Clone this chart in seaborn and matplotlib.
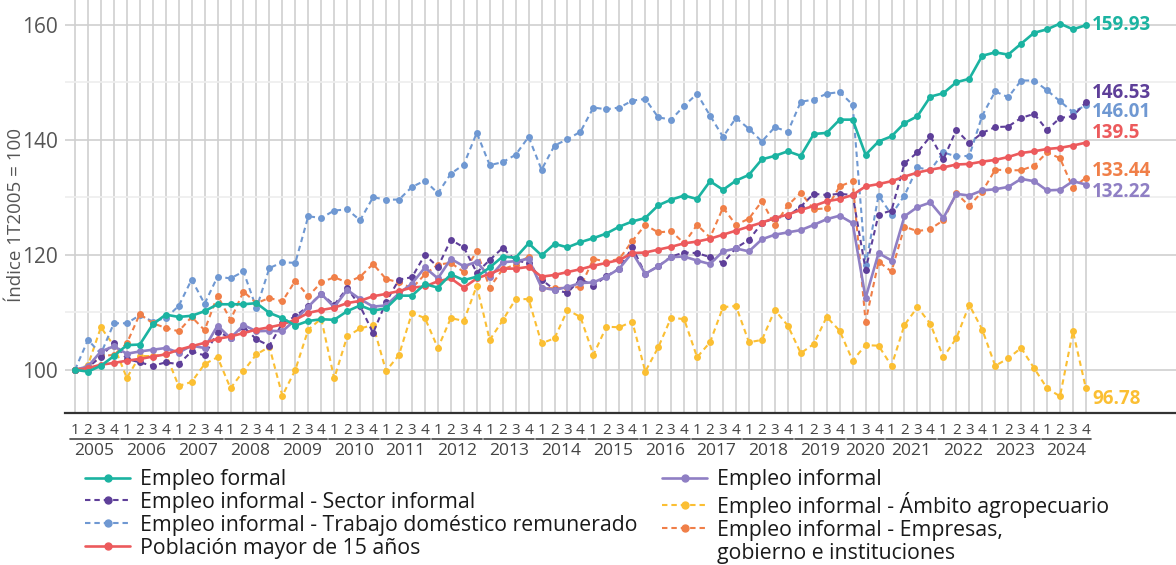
import pandas as pd
import seaborn as sns
import matplotlib.pyplot as plt
from matplotlib.lines import Line2D
from matplotlib.transforms import blended_transform_factory

# periods: 2005Q1 .. 2024Q4 (2020Q2 missing)
years = list(range(2005, 2025))
quarters_2020 = [1, 3, 4]

empleo_formal = [100, 99.7, 100.7, 102.4, 104.3, 104.4, 107.9, 109.6, 109.2, 109.4,
                 110.2, 111.4, 111.4, 111.4, 111.6, 109.9, 109.0, 107.7, 108.5, 108.8,
                 108.7, 110.2, 111.2, 110.3, 110.7, 112.9, 112.9, 114.9, 114.3, 116.6,
                 115.6, 116.2, 117.8, 119.7, 119.5, 122.0, 119.9, 121.9, 121.3, 122.2,
                 122.9, 123.7, 124.9, 125.8, 126.4, 128.6, 129.6, 130.3, 129.7, 132.8,
                 131.3, 132.9, 133.9, 136.6, 137.2, 138.0, 137.2, 141.0, 141.2, 143.5,
                 143.5, 137.4, 139.7, 140.6, 142.9, 144.1, 147.5, 148.1, 150.0, 150.6,
                 154.6, 155.2, 154.8, 156.7, 158.6, 159.2, 160.2, 159.2, 159.93]

sector_informal = [100, 100.4, 102.3, 104.7, 101.9, 101.3, 100.7, 101.3, 101.0, 103.2,
                   102.5, 106.6, 105.6, 107.5, 105.3, 104.2, 108.1, 109.3, 111.1, 113.2,
                   111.3, 114.2, 111.1, 106.4, 111.8, 115.7, 116.1, 120.0, 117.9, 122.6,
                   121.3, 116.9, 119.1, 121.2, 119.0, 118.6, 115.7, 113.9, 113.4, 115.8,
                   114.6, 116.3, 117.6, 121.3, 116.7, 118.0, 119.7, 120.4, 120.3, 119.6,
                   118.6, 121.2, 122.6, 125.5, 126.4, 126.7, 128.4, 130.6, 130.4, 130.6,
                   130.4, 117.4, 127.0, 127.7, 135.9, 137.8, 140.6, 136.6, 141.7, 139.4,
                   141.2, 142.2, 142.3, 143.8, 144.5, 141.7, 143.8, 144.1, 146.53]

trabajo_domestico = [100, 105.2, 102.8, 108.1, 108.1, 109.5, 108.4, 109.0, 111.1, 115.7,
                     111.5, 116.2, 115.9, 117.1, 110.7, 117.7, 118.7, 118.6, 126.7, 126.4,
                     127.7, 127.9, 126.0, 130.0, 129.6, 129.6, 131.8, 132.9, 130.7, 134.1,
                     135.7, 141.2, 135.6, 136.1, 137.4, 140.5, 134.8, 139.0, 140.1, 141.4,
                     145.6, 145.3, 145.6, 146.8, 147.1, 143.9, 143.5, 145.9, 148.0, 144.2,
                     140.5, 143.8, 141.9, 139.7, 142.2, 141.4, 146.6, 147.0, 148.0, 148.3,
                     146.1, 118.2, 130.3, 127.0, 130.3, 135.2, 134.7, 137.8, 137.1, 137.2,
                     144.2, 148.4, 147.4, 150.3, 150.3, 148.6, 146.7, 144.8, 146.01]

poblacion_15 = [100, 100.3, 100.9, 101.2, 101.6, 101.9, 102.3, 102.7, 103.5, 104.1,
                104.7, 105.4, 105.8, 106.4, 107.0, 107.4, 107.9, 108.7, 109.9, 110.4,
                110.8, 111.6, 112.0, 112.8, 113.2, 113.7, 114.3, 114.5, 115.4, 115.9,
                114.3, 115.9, 116.7, 117.6, 117.6, 117.9, 116.2, 116.5, 117.0, 117.5,
                118.1, 118.6, 119.1, 120.3, 120.4, 120.9, 121.4, 122.0, 122.3, 122.8,
                123.5, 124.2, 124.9, 125.6, 126.4, 127.0, 127.8, 128.5, 129.3, 129.7,
                130.4, 131.9, 132.3, 132.8, 133.6, 134.3, 134.8, 135.2, 135.7, 135.8,
                136.2, 136.5, 137.0, 137.7, 138.0, 138.4, 138.6, 139.0, 139.5]

empleo_informal = [100, 100.6, 103.2, 104.1, 102.8, 103.2, 103.5, 103.8, 103.0, 104.2,
                   103.8, 107.7, 105.5, 107.8, 106.7, 106.8, 106.7, 108.7, 111.0, 113.2,
                   110.9, 113.9, 112.3, 111.0, 111.2, 113.3, 115.0, 117.8, 115.9, 119.3,
                   118.0, 118.8, 116.1, 118.7, 118.9, 119.3, 114.3, 113.9, 114.4, 115.1,
                   115.2, 116.2, 117.6, 120.4, 116.7, 118.0, 119.6, 119.7, 119.0, 118.4,
                   120.6, 121.1, 120.6, 122.7, 123.5, 123.9, 124.3, 125.2, 126.2, 126.8,
                   125.5, 112.5, 120.3, 119.0, 126.7, 128.3, 129.1, 126.4, 130.6, 130.3,
                   131.2, 131.4, 131.8, 133.2, 132.8, 131.2, 131.3, 132.8, 132.22]

ambito_agro = [100, 100.8, 107.4, 104.2, 98.6, 102.4, 102.4, 102.8, 97.2, 97.9,
               101.0, 102.2, 96.8, 99.8, 102.7, 104.0, 95.5, 100.0, 107.0, 108.9,
               98.5, 105.8, 107.2, 107.8, 99.8, 102.6, 109.9, 109.0, 103.8, 109.0,
               108.5, 114.6, 105.2, 108.6, 112.3, 112.3, 104.6, 105.5, 110.4, 109.2,
               102.6, 107.5, 107.4, 108.4, 99.7, 103.9, 109.1, 108.8, 102.2, 104.8,
               110.9, 111.1, 104.8, 105.2, 110.4, 107.7, 102.9, 104.5, 109.2, 106.8,
               101.6, 104.3, 104.2, 100.7, 107.8, 110.9, 108.0, 102.2, 105.5, 111.3,
               107.0, 100.7, 102.0, 103.8, 100.3, 96.8, 95.4, 106.7, 96.78]

empresas_gobierno = [100, 100.5, 102.4, 102.6, 104.6, 109.7, 108.1, 107.3, 106.7, 109.2,
                     106.9, 112.9, 108.7, 113.6, 111.6, 112.5, 111.9, 115.5, 112.8, 115.2,
                     116.1, 115.2, 116.2, 118.4, 115.8, 115.2, 114.2, 116.6, 118.3, 118.6,
                     117.0, 120.6, 114.3, 117.5, 118.3, 119.7, 114.2, 114.2, 114.3, 114.4,
                     119.3, 118.8, 119.3, 122.4, 125.2, 123.9, 124.1, 122.0, 125.2, 123.0,
                     128.2, 125.2, 126.3, 129.3, 125.2, 128.6, 130.8, 127.9, 128.1, 131.9,
                     132.8, 108.4, 118.8, 117.1, 124.9, 124.1, 124.5, 126.0, 130.7, 128.5,
                     131.0, 134.8, 134.7, 134.7, 135.5, 137.8, 136.8, 131.6, 133.44]

periods = []
for y in years:
    for q in (quarters_2020 if y == 2020 else [1, 2, 3, 4]):
        periods.append((y, q))

df = pd.DataFrame(periods, columns=["anio", "trim"])
df["t"] = range(len(df))

# name, values, color, dashed, end label y (layout)
series = [
    ("Empleo formal", empleo_formal, "#1bb3a1", False, 160.0),
    ("Empleo informal - Sector informal", sector_informal, "#5e3f99", True, 148.2),
    ("Empleo informal - Trabajo doméstico remunerado", trabajo_domestico, "#6f98d2", True, 144.75),
    ("Población mayor de 15 años", poblacion_15, "#ec5a5c", False, 141.2),
    ("Empleo informal", empleo_informal, "#8f7fc4", False, 131.0),
    ("Empleo informal - Ámbito agropecuario", ambito_agro, "#fbbf33", True, 94.9),
    ("Empleo informal - Empresas,", empresas_gobierno, "#f07f48", True, 134.5),
]

sns.set_theme(style="white")
plt.rcParams["font.family"] = ["Open Sans", "DejaVu Sans"]

fig = plt.figure(figsize=(11.76, 5.65), dpi=100)
ax = fig.add_axes([65 / 1176, 152 / 565, 1 - 65 / 1176, 413 / 565])

dash = (0, (2.6, 1.9))
draw_order = [5, 2, 6, 1, 4, 3, 0]
for k in draw_order:
    name, vals, color, dashed, _ = series[k]
    sns.lineplot(x=df["t"], y=vals, ax=ax, color=color, marker="o",
                 markersize=5, markeredgewidth=0, linewidth=1.5 if dashed else 1.9,
                 linestyle=dash if dashed else "-", zorder=3)

for name, vals, color, dashed, ly in series:
    ax.annotate(f"{vals[-1]:g}", xy=(df["t"].iloc[-1], ly), xytext=(4.5, 0),
                textcoords="offset points", ha="left", va="center",
                fontsize=13.5, fontweight="bold", color=color)

ax.set_xlim(-0.77, 84.95)
ax.set_ylim(92.5, 164.3)
ax.set_yticks([100, 120, 140, 160])
ax.set_yticks([110, 130, 150], minor=True)
ax.grid(axis="y", which="major", color="#cfcfcf", linewidth=1.2)
ax.grid(axis="y", which="minor", color="#eeeeee", linewidth=1.2)
ax.set_xticks(df["t"])
ax.set_xticklabels(df["trim"].astype(str))
ax.grid(axis="x", which="major", color="#cfcfcf", linewidth=1.2)
ax.set_axisbelow(True)
ax.tick_params(axis="x", length=0, pad=7, labelsize=11, labelcolor="#444444")
ax.tick_params(axis="y", which="both", length=0, pad=5, labelsize=15, labelcolor="#555555")
ax.set_xlabel("")
ax.set_ylabel("")
for s in ["top", "right", "left"]:
    ax.spines[s].set_visible(False)
ax.spines["bottom"].set_color("#333333")
ax.spines["bottom"].set_linewidth(1.6)

trans = blended_transform_factory(ax.transData, ax.transAxes)
for y in years:
    idx = df.loc[df["anio"] == y, "t"]
    ax.plot([idx.min() - 0.42, idx.max() + 0.42], [-0.062, -0.062], transform=trans,
            clip_on=False, color="#444444", linewidth=1.2)
    ax.text(idx.mean(), -0.092, str(y), transform=trans, ha="center", va="center",
            fontsize=12.5, color="#444444")

fig.text(16 / 1176, 1 - 215 / 565, "Índice 1T2005 = 100", rotation=90,
         ha="center", va="center", fontsize=13.5, color="#555555")

handles, labels = [], []
for name, vals, color, dashed, _ in series:
    handles.append(Line2D([], [], color=color, marker="o", markersize=5,
                          linewidth=1.5 if dashed else 1.9,
                          linestyle=dash if dashed else "-"))
    labels.append(name)
handles.append(Line2D([], [], color="none"))
labels.append("gobierno e instituciones")

fig.legend(handles, labels, ncol=2, loc="upper left",
           bbox_to_anchor=(85 / 1176, 1 - 469 / 565), frameon=False,
           fontsize=15.3, handlelength=2.12, handletextpad=0.47,
           columnspacing=1.17, labelspacing=0.09, borderpad=0, borderaxespad=0,
           labelcolor="#1a1a1a")

fig.savefig("out.png", dpi=100)
